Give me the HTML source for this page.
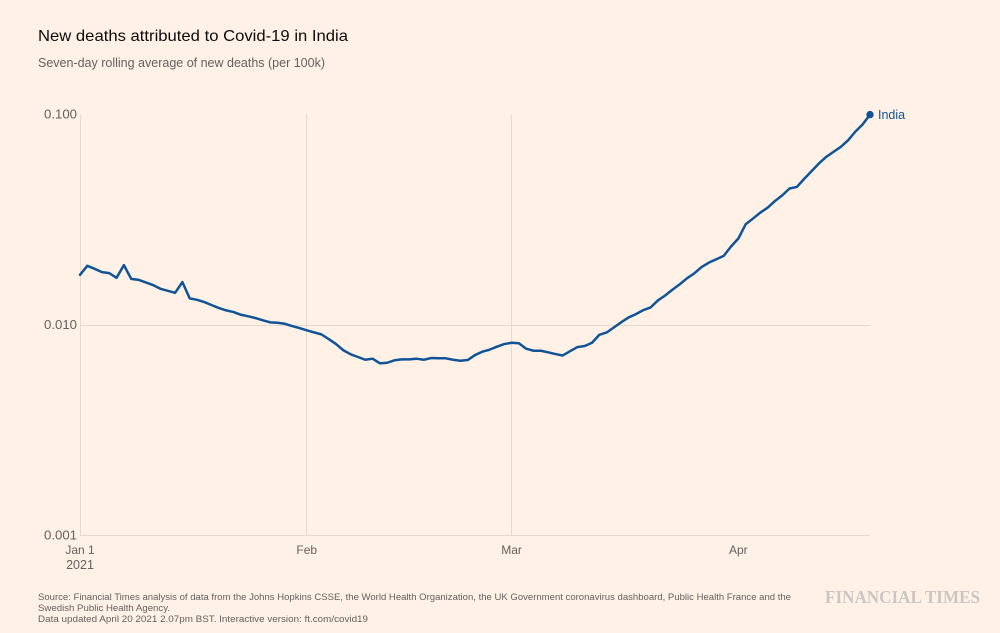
<!DOCTYPE html>
<html lang="en">
<head>
<meta charset="utf-8">
<title>New deaths attributed to Covid-19 in India</title>
<style>
html,body{margin:0;padding:0;background:#fff1e5;}
body{width:1000px;height:633px;overflow:hidden;}
svg{display:block;font-family:"Liberation Sans",sans-serif;}
</style>
</head>
<body>
<svg id="chart" width="1000" height="633" viewBox="0 0 1000 633" xmlns="http://www.w3.org/2000/svg">
  <rect x="0" y="0" width="1000" height="633" fill="#fff1e5"/>
  <text x="38" y="41" font-size="16" fill="#0d0b0a" textLength="310" lengthAdjust="spacingAndGlyphs">New deaths attributed to Covid-19 in India</text>
  <text x="38" y="67" font-size="12.5" fill="#66605c" textLength="287" lengthAdjust="spacingAndGlyphs">Seven-day rolling average of new deaths (per 100k)</text>
  <g id="grid"></g>
  <g id="y-axis"></g>
  <g id="x-axis"></g>
  <g id="series"></g>
  <g font-size="9" fill="#66605c">
    <text x="38" y="600" textLength="753" lengthAdjust="spacingAndGlyphs">Source: Financial Times analysis of data from the Johns Hopkins CSSE, the World Health Organization, the UK Government coronavirus dashboard, Public Health France and the</text>
    <text x="38" y="611" textLength="132" lengthAdjust="spacingAndGlyphs">Swedish Public Health Agency.</text>
    <text x="38" y="622" textLength="330" lengthAdjust="spacingAndGlyphs">Data updated April 20 2021 2.07pm BST. Interactive version: ft.com/covid19</text>
  </g>
  <text x="825" y="603" font-family="'Liberation Serif',serif" font-weight="bold" font-size="18" fill="#cbc6c1" textLength="155" lengthAdjust="spacingAndGlyphs">FINANCIAL TIMES</text>
</svg>
<script>
// Day offsets from 1 Jan 2021 for the x-axis ticks
const xTickDays = [0, 31, 59, 90];
const xTickLabels = ["Jan 1", "Feb", "Mar", "Apr"];
const xGridDays = [0, 31, 59];
const yTicks = [0.1, 0.01, 0.001];
const yTickLabels = ["0.100", "0.010", "0.001"];
const yGridTicks = [0.01, 0.001];
const seriesName = "India";
// Seven-day rolling average of new deaths per 100k, one value per day
const indiaValues = [
  0.01733,0.01912,0.01850,0.01784,0.01765,0.01677,0.01926,0.01658,0.01640,0.01594,
  0.01548,0.01487,0.01455,0.01423,0.01600,0.01339,0.01318,0.01286,0.01244,0.01204,
  0.01174,0.01153,0.01119,0.01100,0.01079,0.01053,0.01030,0.01025,0.01014,0.00989,
  0.00968,0.00944,0.00923,0.00903,0.00858,0.00812,0.00759,0.00726,0.00705,0.00684,
  0.00692,0.00658,0.00662,0.00680,0.00687,0.00687,0.00692,0.00684,0.00697,0.00695,
  0.00695,0.00684,0.00677,0.00682,0.00720,0.00747,0.00764,0.00789,0.00812,0.00824,
  0.00819,0.00772,0.00755,0.00755,0.00742,0.00728,0.00717,0.00751,0.00786,0.00795,
  0.00824,0.00899,0.00922,0.00975,0.01032,0.01087,0.01127,0.01177,0.01212,0.01309,
  0.01382,0.01473,0.01563,0.01670,0.01763,0.01889,0.01982,0.02055,0.02131,0.02361,
  0.02577,0.03012,0.03206,0.03420,0.03612,0.03883,0.04132,0.04454,0.04533,0.04950,
  0.05380,0.05850,0.06290,0.06650,0.07020,0.07550,0.08300,0.08990,0.10000
];

const NS = "http://www.w3.org/2000/svg";
const plot = { left: 80, right: 870, top: 114.6, bottom: 535.5 };
const gridColor = "#e6d9ce";
const tickColor = "#66605c";
const lineColor = "#0f5499";

function xScale(day) {
  return plot.left + (day / (indiaValues.length - 1)) * (plot.right - plot.left);
}
function yScale(v) {
  const logTop = Math.log10(0.1);
  const logBottom = Math.log10(0.001);
  return plot.top + ((logTop - Math.log10(v)) / (logTop - logBottom)) * (plot.bottom - plot.top);
}
function make(tag, attrs, parentId) {
  const el = document.createElementNS(NS, tag);
  Object.keys(attrs).forEach(function (k) { el.setAttribute(k, attrs[k]); });
  document.getElementById(parentId).appendChild(el);
  return el;
}

yGridTicks.forEach(function (t) {
  const y = Math.floor(yScale(t)) + 0.5;
  const el = make("line", { x1: plot.left, x2: plot.right, y1: y, y2: y, stroke: gridColor, "stroke-width": 1 }, "grid");
  
  
});
xGridDays.forEach(function (d) {
  const x = Math.floor(xScale(d)) + 0.5;
  const el = make("line", { x1: x, x2: x, y1: plot.top, y2: plot.bottom, stroke: gridColor, "stroke-width": 1 }, "grid");
  
  
});

yTicks.forEach(function (t, i) {
  const el = make("text", { x: 77, y: yScale(t) + 3.8, "text-anchor": "end", "font-size": 13.2, fill: tickColor }, "y-axis");
  el.textContent = yTickLabels[i];
  
  
});

xTickDays.forEach(function (d, i) {
  const el = make("text", { x: xScale(d), y: 554, "text-anchor": "middle", "font-size": 12, fill: tickColor }, "x-axis");
  el.textContent = xTickLabels[i];
  
  
});
const yearLabel = make("text", { x: xScale(0), y: 569, "text-anchor": "middle", "font-size": 12.5, fill: tickColor }, "x-axis");
yearLabel.textContent = "2021";



const pathData = indiaValues.map(function (v, i) {
  return (i === 0 ? "M" : "L") + xScale(i).toFixed(2) + " " + yScale(v).toFixed(2);
}).join(" ");
const seriesLine = make("path", { d: pathData, fill: "none", stroke: lineColor, "stroke-width": 2.5, "stroke-linejoin": "round", "stroke-linecap": "round" }, "series");



const lastIndex = indiaValues.length - 1;
const endDot = make("circle", { cx: xScale(lastIndex), cy: yScale(indiaValues[lastIndex]), r: 3.7, fill: lineColor }, "series");



const endLabel = make("text", { x: xScale(lastIndex) + 8, y: yScale(indiaValues[lastIndex]) + 4.2, "font-size": 12.5, fill: lineColor }, "series");
endLabel.textContent = seriesName;


</script>
</body>
</html>
